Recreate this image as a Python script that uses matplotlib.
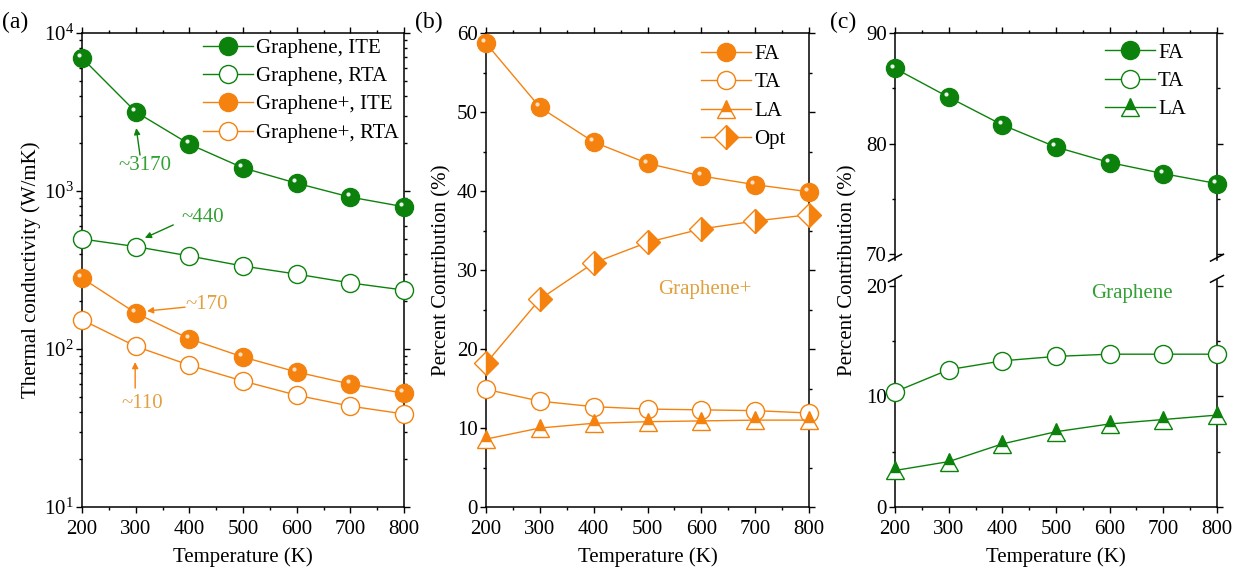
import numpy as np
import matplotlib
matplotlib.use("Agg")
import matplotlib.pyplot as plt
from matplotlib.transforms import ScaledTranslation
from matplotlib.ticker import MultipleLocator, LogLocator, NullFormatter

plt.rcParams['font.family'] = ['Liberation Serif', 'DejaVu Serif']
plt.rcParams['mathtext.fontset'] = 'custom'
plt.rcParams['mathtext.rm'] = 'Liberation Serif'
plt.rcParams['mathtext.it'] = 'Liberation Serif:italic'

# Dados
temp = [200, 300, 400, 500, 600, 700, 800]

# (a) condutividade térmica (W/mK)
gr_ite = [6950, 3170, 1980, 1400, 1120, 915, 795]
gr_rta = [497, 445, 388, 335, 298, 262, 236]
grp_ite = [281, 169, 116, 89, 71.5, 60, 52.5]
grp_rta = [153, 104, 79, 62.7, 51, 43.5, 38.8]

# (b) Graphene+ contribuição (%)
b_fa = [58.7, 50.6, 46.2, 43.5, 41.9, 40.8, 39.9]
b_ta = [14.9, 13.4, 12.7, 12.4, 12.3, 12.2, 11.9]
b_la = [8.6, 10.0, 10.6, 10.8, 10.9, 11.0, 11.0]
b_opt = [18.2, 26.3, 30.9, 33.5, 35.2, 36.2, 37.0]

# (c) Graphene contribuição (%)
c_fa = [86.8, 84.2, 81.7, 79.7, 78.3, 77.3, 76.4]
c_ta = [10.4, 12.4, 13.2, 13.6, 13.8, 13.8, 13.8]
c_la = [3.3, 4.1, 5.7, 6.8, 7.5, 7.9, 8.3]

verde = '#0c820c'
verde_txt = '#33a033'
laranja = '#f5820f'
laranja_txt = '#e2a040'
fs = 15
ms = 13

fig = plt.figure(figsize=(12.45, 5.78), dpi=100)


def estilo(ax, yminor=None):
    ax.set_xlim(200, 800)
    ax.xaxis.set_major_locator(MultipleLocator(100))
    ax.xaxis.set_minor_locator(MultipleLocator(50))
    if yminor is not None:
        ax.yaxis.set_minor_locator(MultipleLocator(yminor))
    ax.tick_params(which='both', direction='out', labelsize=fs, width=1, pad=2,
                   top=True, right=True)
    ax.tick_params(axis='x', pad=5)
    ax.tick_params(which='major', length=4)
    ax.tick_params(which='minor', length=2.5)
    for s in ax.spines.values():
        s.set_linewidth(1.1)


def brilho(ax, x, y, cor='#e8f5e8'):
    # pequeno reflexo nas esferas
    off = ax.transData + ScaledTranslation(-2/72, 2/72, fig.dpi_scale_trans)
    ax.plot(x, y, 'o', ms=3, color=cor, mec='none', transform=off, zorder=5, clip_on=False)


def seta(ax, txt, pos, ini, fim, cor, cor_txt):
    ax.text(pos[0], pos[1], txt, color=cor_txt, fontsize=fs, ha='center', va='center')
    ax.annotate('', xy=fim, xytext=ini,
                arrowprops=dict(arrowstyle='-|>', color=cor, lw=1, mutation_scale=9,
                                shrinkA=0, shrinkB=0))


leg_kw = dict(frameon=False, fontsize=fs, handlelength=2.4, handletextpad=0.15,
              labelspacing=0.42, borderpad=0.1)

# ---------- (a) ----------
ax1 = fig.add_axes([0.0659, 0.1228, 0.2586, 0.8201])
ax1.plot(temp, gr_ite, '-o', color=verde, lw=1, ms=ms, label='Graphene, ITE', clip_on=False, zorder=4)
ax1.plot(temp, gr_rta, '-o', color=verde, lw=1, ms=ms, mfc='white', mew=1, label='Graphene, RTA', clip_on=False, zorder=4)
ax1.plot(temp, grp_ite, '-o', color=laranja, lw=1, ms=ms, label='Graphene+, ITE', clip_on=False, zorder=4)
ax1.plot(temp, grp_rta, '-o', color=laranja, lw=1, ms=ms, mfc='white', mew=1, label='Graphene+, RTA', clip_on=False, zorder=4)
brilho(ax1, temp, gr_ite)
brilho(ax1, temp, grp_ite, '#fde0c0')
ax1.set_yscale('log')
ax1.set_ylim(10, 1e4)
estilo(ax1)
ax1.yaxis.set_minor_locator(LogLocator(base=10, subs=np.arange(2, 10)))
ax1.yaxis.set_minor_formatter(NullFormatter())
ax1.set_xlabel('Temperature (K)', fontsize=fs, labelpad=6)
ax1.set_ylabel('Thermal conductivity (W/mK)', fontsize=fs, labelpad=2)
ax1.legend(loc='upper right', borderaxespad=0.15, **leg_kw)

seta(ax1, '~3170', (317, 1440), (308, 1690), (301, 2500), verde, verde_txt)
seta(ax1, '~440', (425, 675), (370, 610), (317, 505), verde, verde_txt)
seta(ax1, '~170', (433, 190), (392, 184), (321, 174), laranja, laranja_txt)
seta(ax1, '~110', (312, 45.5), (299, 56.6), (299, 82.7), laranja, laranja_txt)
fig.text(0.002, 0.962, '(a)', fontsize=17, va='center')

# ---------- (b) ----------
ax2 = fig.add_axes([0.3904, 0.1228, 0.2594, 0.8201])
ax2.plot(temp, b_fa, '-o', color=laranja, lw=1, ms=ms, label='FA', clip_on=False, zorder=4)
ax2.plot(temp, b_ta, '-o', color=laranja, lw=1, ms=ms, mfc='white', mew=1, label='TA', clip_on=False, zorder=4)
ax2.plot(temp, b_la, '-^', color=laranja, lw=1, ms=ms, fillstyle='top', mfc=laranja, mfcalt='white', mew=1,
         label='LA', clip_on=False, zorder=4)
ax2.plot(temp, b_opt, '-D', color=laranja, lw=1, ms=12, fillstyle='right', mfc=laranja, mfcalt='white', mew=1,
         label='Opt', clip_on=False, zorder=4)
brilho(ax2, temp, b_fa, '#fde0c0')
ax2.set_ylim(0, 60)
ax2.yaxis.set_major_locator(MultipleLocator(10))
estilo(ax2, yminor=5)
ax2.set_xlabel('Temperature (K)', fontsize=fs, labelpad=6)
ax2.set_ylabel('Percent Contribution (%)', fontsize=fs, labelpad=4)
ax2.legend(loc='upper right', bbox_to_anchor=(0.935, 0.98), borderaxespad=0, **leg_kw)
ax2.text(607, 27.5, 'Graphene+', color=laranja_txt, fontsize=fs, ha='center', va='center')
fig.text(0.333, 0.962, '(b)', fontsize=17, va='center')

# ---------- (c) eixo quebrado ----------
axc_top = fig.add_axes([0.7189, 0.5502, 0.2586, 0.3927])
axc_bot = fig.add_axes([0.7189, 0.1228, 0.2586, 0.3928])
h_fa, = axc_top.plot(temp, c_fa, '-o', color=verde, lw=1, ms=ms, label='FA', clip_on=False, zorder=4)
h_ta, = axc_bot.plot(temp, c_ta, '-o', color=verde, lw=1, ms=ms, mfc='white', mew=1, label='TA', clip_on=False, zorder=4)
h_la, = axc_bot.plot(temp, c_la, '-^', color=verde, lw=1, ms=ms, fillstyle='top', mfc=verde, mfcalt='white', mew=1,
                     label='LA', clip_on=False, zorder=4)
brilho(axc_top, temp, c_fa)
for ax in (axc_top, axc_bot):
    estilo(ax, yminor=5)
    ax.yaxis.set_major_locator(MultipleLocator(10))
axc_top.set_ylim(69.5, 90)
axc_bot.set_ylim(0, 20.5)
axc_top.spines['bottom'].set_visible(False)
axc_bot.spines['top'].set_visible(False)
axc_top.tick_params(which='both', bottom=False, labelbottom=False)
axc_bot.tick_params(which='both', top=False)
axc_bot.set_xlabel('Temperature (K)', fontsize=fs, labelpad=6)
fig.text(0.681, 0.533, 'Percent Contribution (%)', fontsize=fs, rotation=90, ha='center', va='center')
axc_top.legend(handles=[h_fa, h_ta, h_la], loc='upper right', bbox_to_anchor=(0.91, 0.965),
               borderaxespad=0, **leg_kw)
axc_bot.text(641, 19.3, 'Graphene', color=verde_txt, fontsize=fs, ha='center', va='center')
fig.text(0.667, 0.962, '(c)', fontsize=17, va='center')

# marcas de quebra
kw = dict(color='k', lw=1.1, clip_on=False)
for xs in (0, 1):
    axc_top.plot([xs - 0.02, xs + 0.02], [-0.005, 0.025], transform=axc_top.transAxes, **kw)
    axc_bot.plot([xs - 0.02, xs + 0.02], [0.99, 1.02], transform=axc_bot.transAxes, **kw)

fig.savefig('out.png', dpi=100)
